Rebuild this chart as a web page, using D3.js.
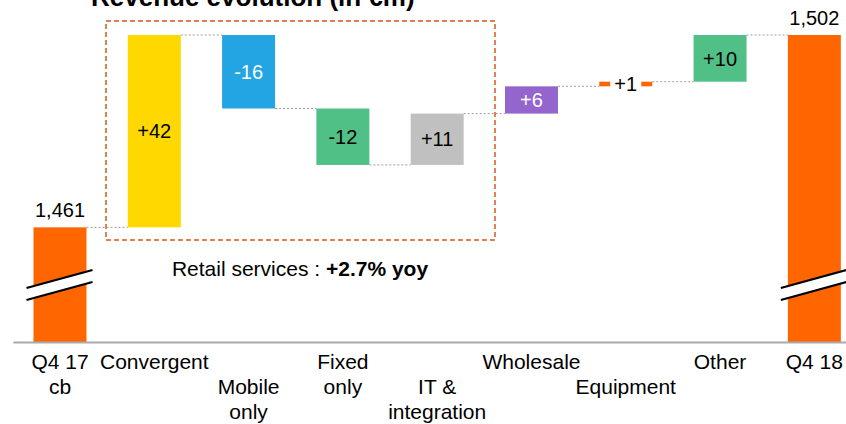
<!DOCTYPE html>
<html>
<head>
<meta charset="utf-8">
<script src="https://cdn.jsdelivr.net/npm/d3@7"></script>
<style>
  body { margin: 0; background: #fff; }
  svg text { font-family: "Liberation Sans", Arial, Helvetica, sans-serif; }
</style>
</head>
<body>
<div id="chart"></div>
<script>
var svgWidth = 846;
var svgHeight = 424;

// data
var categories = ["Q4 17\ncb", "Convergent", "Mobile\nonly", "Fixed\nonly", "IT &\nintegration", "Wholesale", "Equipment", "Other", "Q4 18"];
var startValue = 1460.8;
var endValue = 1502.4;
var deltas = [41.6, -15.9, -12.2, 11.1, 5.9, 1.0, 10.1];
var barColors = ["#ff6600", "#ffd800", "#22a5e2", "#50c087", "#c0c0c0", "#9365cd", "#ff6600", "#50c087", "#ff6600"];
var labelColors = ["#000", "#000", "#fff", "#000", "#000", "#fff", "#000", "#000", "#000"];
var axisFloor = 1436; // value sitting on the (broken) baseline
var title = "Revenue evolution (in €m)";

var fmt = d3.formatLocale({decimal: ".", thousands: ",", grouping: [3], currency: ["", ""], minus: "-"});
var fmtTotal = fmt.format(",.0f");
var fmtDelta = fmt.format("+.0f");

// build the waterfall steps
var steps = [];
var running = startValue;
steps.push({cat: categories[0], lo: axisFloor, hi: startValue, end: startValue, label: fmtTotal(startValue), total: true});
deltas.forEach(function(d, i) {
  var next = running + d;
  steps.push({cat: categories[i + 1], lo: Math.min(running, next), hi: Math.max(running, next), end: next, label: fmtDelta(d), total: false});
  running = next;
});
steps.push({cat: categories[8], lo: axisFloor, hi: endValue, end: endValue, label: fmtTotal(endValue), total: true});

var svg = d3.select("#chart")
  .append("svg")
  .attr("width", svgWidth)
  .attr("height", svgHeight);

var x = d3.scaleBand()
  .domain(categories)
  .range([12.85, 861.5])
  .paddingInner(0.438)
  .paddingOuter(0.219);

var y = d3.scaleLinear()
  .domain([axisFloor, endValue])
  .range([342, 35]);

var bw = x.bandwidth();

// title (cut off at the top like the original)
svg.append("text")
  .attr("x", 91)
  .attr("y", 6)
  .attr("font-size", 26)
  .attr("font-weight", "bold")
  .attr("fill", "#000")
  .text(title);

// retail services box
svg.append("rect")
  .attr("x", 106)
  .attr("y", 21)
  .attr("width", 389)
  .attr("height", 219)
  .attr("fill", "none")
  .attr("stroke", "#d95a1c")
  .attr("stroke-width", 1.5)
  .attr("stroke-dasharray", "5,3");

var retail = svg.append("text")
  .attr("x", 300)
  .attr("y", 276)
  .attr("text-anchor", "middle")
  .attr("font-size", 21)
  .attr("fill", "#000");
retail.append("tspan").text("Retail services : ");
retail.append("tspan").attr("font-weight", "bold").text("+2.7% yoy");

// connectors
var links = steps.slice(0, -1).map(function(s, i) {
  return {x1: x(s.cat) + bw, x2: x(steps[i + 1].cat), y: y(s.end)};
});
svg.selectAll("line.link")
  .data(links)
  .enter()
  .append("line")
  .attr("class", "link")
  .attr("x1", d => d.x1)
  .attr("x2", d => d.x2)
  .attr("y1", d => d.y)
  .attr("y2", d => d.y)
  .attr("stroke", "#9a9a9a")
  .attr("stroke-width", 1)
  .attr("stroke-dasharray", "2,2");

// bars
svg.selectAll("rect.bar")
  .data(steps)
  .enter()
  .append("rect")
  .attr("class", "bar")
  .attr("x", d => x(d.cat))
  .attr("y", d => y(d.hi))
  .attr("width", bw)
  .attr("height", d => y(d.lo) - y(d.hi))
  .attr("fill", (d, i) => barColors[i]);

// axis baseline
var xAxis = svg.append("g")
  .attr("transform", "translate(0, 342)")
  .call(d3.axisBottom(x).tickSize(0).tickFormat(""));
xAxis.select(".domain")
  .attr("stroke", "#aaaaaa")
  .attr("stroke-width", 2);

// axis breaks on the total bars
steps.filter(d => d.total).forEach(function(d) {
  var x0 = x(d.cat) - 7, x1 = x(d.cat) + bw + 6;
  var g = svg.append("g");
  g.append("path")
    .attr("d", `M${x0},288 L${x1},270 L${x1},282 L${x0},300 Z`)
    .attr("fill", "#fff");
  [0, 12].forEach(function(off) {
    g.append("line")
      .attr("x1", x0).attr("y1", 288 + off)
      .attr("x2", x1).attr("y2", 270 + off)
      .attr("stroke", "#000")
      .attr("stroke-width", 2.2);
  });
});

// value labels
steps.forEach(function(d, i) {
  var cx = x(d.cat) + bw / 2;
  if (d.total) {
    svg.append("text")
      .attr("x", cx)
      .attr("y", y(d.hi) - 10)
      .attr("text-anchor", "middle")
      .attr("font-size", 20)
      .attr("fill", "#000")
      .text(d.label);
    return;
  }
  var cy = (y(d.hi) + y(d.lo)) / 2;
  if (y(d.lo) - y(d.hi) < 20) {
    // bar too thin: put a white patch behind the label
    svg.append("rect")
      .attr("x", cx - 15.5)
      .attr("y", cy - 10)
      .attr("width", 31)
      .attr("height", 20)
      .attr("fill", "#fff");
  }
  svg.append("text")
    .attr("x", cx)
    .attr("y", cy)
    .attr("dy", "0.36em")
    .attr("text-anchor", "middle")
    .attr("font-size", 20)
    .attr("fill", labelColors[i])
    .text(d.label);
});

// category labels, every other middle one pushed down a row
categories.forEach(function(c, i) {
  var row = (i % 2 === 0 && i > 0 && i < categories.length - 1) ? 1 : 0;
  var t = svg.append("text")
    .attr("text-anchor", "middle")
    .attr("font-size", 21)
    .attr("fill", "#000");
  c.split("\n").forEach(function(line, k) {
    t.append("tspan")
      .attr("x", x(c) + bw / 2)
      .attr("y", 369 + (row + k) * 25)
      .text(line);
  });
});
</script>
</body>
</html>
